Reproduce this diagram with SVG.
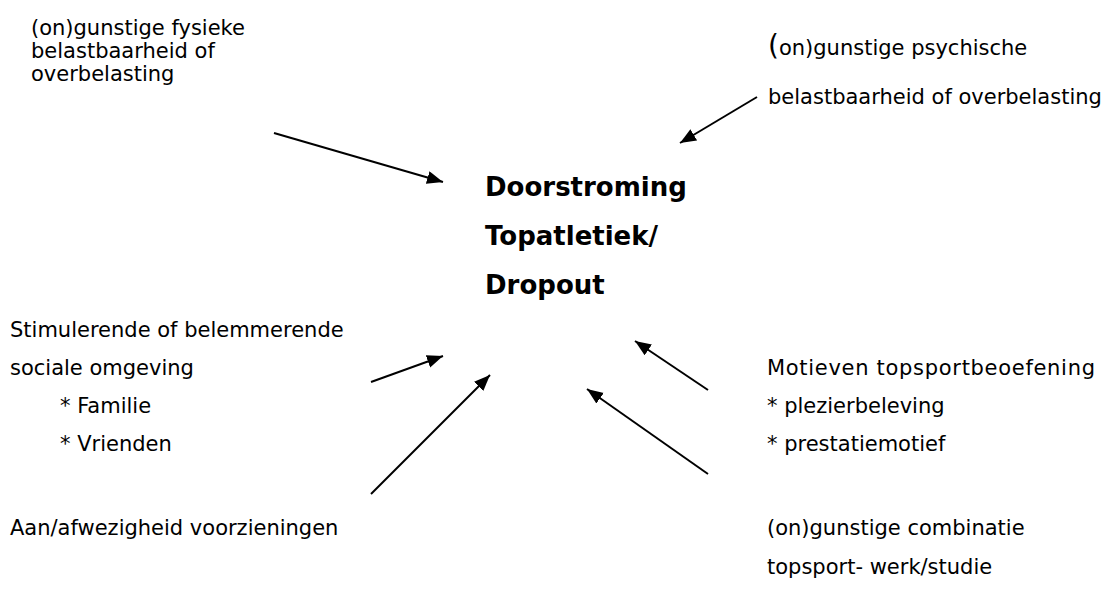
<svg xmlns="http://www.w3.org/2000/svg" width="1104" height="612" viewBox="0 0 1104 612">
<defs>
<marker id="ah" markerUnits="userSpaceOnUse" markerWidth="18" markerHeight="14" refX="16" refY="6.5" orient="auto">
<path d="M0,0 L16,6.5 L0,13 z" fill="#000"/>
</marker>
<style>
.t{font-family:"DejaVu Sans","Liberation Sans",sans-serif;font-size:21px;fill:#000}
.b{font-family:"DejaVu Sans","Liberation Sans",sans-serif;font-size:26px;font-weight:bold;fill:#000}
.c{stroke:#000;stroke-width:2;fill:none;marker-end:url(#ah)}
</style>
</defs>
<rect width="1104" height="612" fill="#fff"/>
<g id="center">
<text class="b" x="485" y="196">Doorstroming</text>
<text class="b" x="485" y="245">Topatletiek/</text>
<text class="b" x="485" y="294">Dropout</text>
</g>
<g id="fysiek">
<text class="t" x="31" y="35" font-size="21.5">(on)gunstige fysieke</text>
<text class="t" x="31" y="58" font-size="21.5">belastbaarheid of</text>
<text class="t" x="31" y="81" font-size="21.5">overbelasting</text>
</g>
<g id="psychisch">
<text class="t" x="768" y="55"><tspan font-size="28">(</tspan>on)gunstige psychische</text>
<text class="t" x="768" y="104">belastbaarheid of overbelasting</text>
</g>
<g id="sociaal">
<text class="t" x="10" y="337">Stimulerende of belemmerende</text>
<text class="t" x="10" y="375">sociale omgeving</text>
<text class="t" x="60" y="413">* Familie</text>
<text class="t" x="60" y="451">* Vrienden</text>
</g>
<g id="motieven">
<text class="t" x="767" y="375" textLength="328" lengthAdjust="spacing">Motieven topsportbeoefening</text>
<text class="t" x="767" y="413">* plezierbeleving</text>
<text class="t" x="767" y="451">* prestatiemotief</text>
</g>
<g id="voorzieningen">
<text class="t" x="10" y="535">Aan/afwezigheid voorzieningen</text>
</g>
<g id="combinatie">
<text class="t" x="767" y="535">(on)gunstige combinatie</text>
<text class="t" x="767" y="574">topsport- werk/studie</text>
</g>
<g id="connectors">
<line class="c" x1="274" y1="133" x2="443" y2="182"/>
<line class="c" x1="757" y1="97" x2="680" y2="143"/>
<line class="c" x1="371" y1="382" x2="443" y2="356"/>
<line class="c" x1="371" y1="494" x2="490" y2="375"/>
<line class="c" x1="708" y1="390" x2="635" y2="341"/>
<line class="c" x1="708" y1="474" x2="587" y2="389"/>
</g>
</svg>
